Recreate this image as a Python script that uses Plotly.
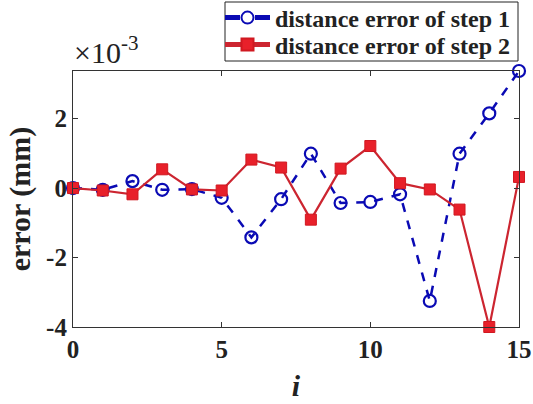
import plotly.graph_objects as go

i_vals = list(range(16))
step1 = [0.0, -0.05, 0.2, -0.05, -0.03, -0.28, -1.42, -0.32, 0.99, -0.43, -0.40, -0.18, -3.25, 0.99, 2.15, 3.37]
step2 = [0.0, -0.07, -0.18, 0.54, -0.04, -0.07, 0.82, 0.59, -0.91, 0.56, 1.21, 0.14, -0.04, -0.62, -4.0, 0.32]
x_ticks = [0, 5, 10, 15]
y_ticks = [-4, -2, 0, 2]

font_fam = "Liberation Serif"
blue = "#0A0AB4"
red_line = "#CC2530"
red_mark = "#E8202A"

# plot area in pixels (for converting layout positions)
W, H = 533, 404
L, R, T, B = 73, 14, 71, 77
pw, ph = W - L - R, H - T - B
def px(xp):
    return (xp - L) / pw
def py(yp):
    return (H - B - yp) / ph

fig = go.Figure()
fig.add_trace(go.Scatter(
    x=i_vals, y=step1, mode="lines+markers", name="<b>distance error of step 1</b>",
    line=dict(color=blue, width=2.5, dash="dash"),
    marker=dict(symbol="circle-open", size=12, color=blue, line=dict(width=2.2, color=blue)),
    cliponaxis=False, legend="legend",
))
fig.add_trace(go.Scatter(
    x=i_vals, y=step2, mode="lines+markers", name="<b>distance error of step 2</b>",
    line=dict(color=red_line, width=2.2),
    marker=dict(symbol="square", size=11, color=red_mark, line=dict(width=1, color="#D01820")),
    cliponaxis=False, legend="legend2",
))

axis_common = dict(
    showgrid=False, zeroline=False, showline=True, linecolor="#333333", linewidth=1.2,
    mirror="ticks", ticks="inside", ticklen=5, tickcolor="#333333", automargin=False,
    tickfont=dict(family=font_fam, size=25, color="#222222"),
)
fig.update_xaxes(range=[0, 15], tickvals=x_ticks, ticktext=[f"<b>{v}</b>" for v in x_ticks],
                 title=dict(text="<b><i>i</i></b>", font=dict(family=font_fam, size=30, color="#222222"), standoff=12),
                 **axis_common)
fig.update_yaxes(range=[-4, 3.37], tickvals=y_ticks, ticktext=[f"<b>{v}</b>" for v in y_ticks],
                 title=dict(text="<b>error (mm)</b>", font=dict(family=font_fam, size=30, color="#222222"), standoff=6),
                 **axis_common)

fig.add_annotation(
    text="×10<sup>-3</sup>", xref="paper", yref="paper", x=0.0, y=1.0,
    xanchor="left", yanchor="bottom", showarrow=False, yshift=0, xshift=-1,
    font=dict(family=font_fam, size=30, color="#222222"),
)

# legend frame
fig.add_shape(type="rect", xref="paper", yref="paper",
              x0=px(225), x1=px(518), y0=py(61), y1=py(2),
              line=dict(color="#222222", width=1), fillcolor="white", layer="above")

leg_common = dict(
    xanchor="left", yanchor="middle", bgcolor="rgba(0,0,0,0)", borderwidth=0,
    font=dict(family=font_fam, size=24, color="#222222"),
    itemsizing="constant", itemwidth=45,
)
fig.update_layout(
    width=W, height=H,
    margin=dict(l=L, r=R, t=T, b=B, autoexpand=False),
    plot_bgcolor="white", paper_bgcolor="white",
    showlegend=True,
    legend=dict(x=px(220), y=py(18), **leg_common),
    legend2=dict(x=px(220), y=py(45), **leg_common),
)

fig.write_html("out.html")
